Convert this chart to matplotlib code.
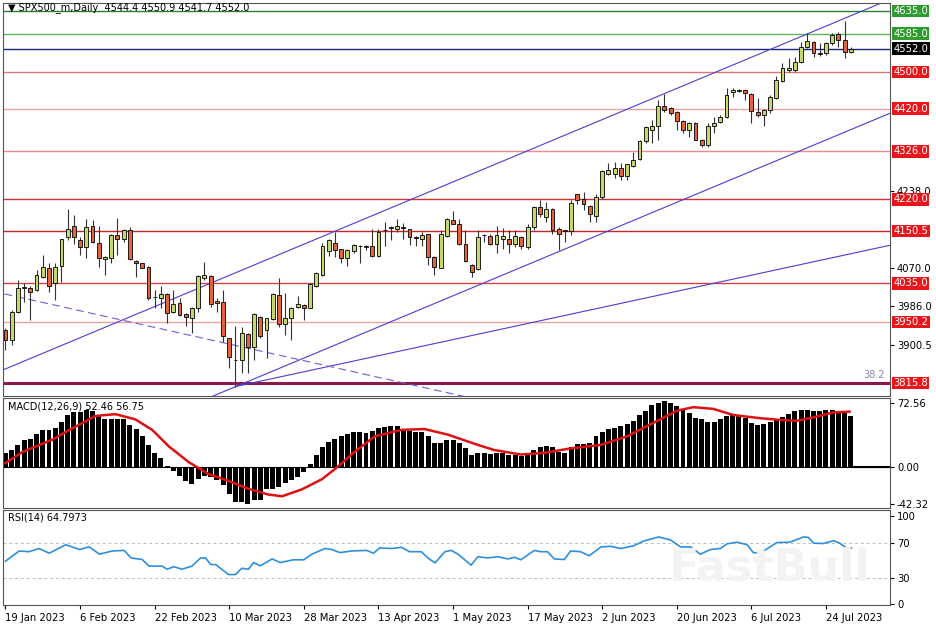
import matplotlib
matplotlib.use("Agg")
import matplotlib.pyplot as plt
import numpy as np

plt.rcParams['font.family'] = ['DejaVu Sans']

opens = [3932,3911,3973,4024,4026,4021,4050,4068,4035,4074,4137,4162,4131,4116,4161,4125,4089,4092,4141,4133,
         4153,4085,4079,4072,4006,4004,4011,3973,3991,3968,3958,3980,4046,4051,3996,3995,3914,3866,3866,3924,
         3896,3962,3933,3956,4010,3946,3960,3984,3987,3982,4029,4054,4107,4125,4110,4090,4107,4118,4116,4117,
         4095,4152,4158,4156,4159,4154,4137,4133,4143,4094,4070,4139,4175,4166,4121,4076,4066,4141,4139,4123,
         4134,4134,4123,4138,4116,4160,4204,4182,4200,4154,4151,4151,4231,4221,4206,4184,4226,4277,4276,4289,
         4272,4294,4308,4349,4374,4382,4426,4421,4412,4393,4374,4388,4351,4340,4382,4391,4401,4456,4459.5,4460,
         4452,4413,4406,4417,4443,4481,4505,4505,4523,4556,4567,4543,4542,4564,4584,4572,4544.4]
highs = [3936,3977,4043,4035,4030,4065,4098,4079,4079,4134,4198,4186,4137,4178,4175,4161,4096,4145,4180,4156,
         4160,4087,4081,4074,4021,4030,4013,4021,4002,3970,3984,4053,4083,4053,4002,4021,3916,3941,3940,3926,
         3970,3964,3960,4014,4046,4013,3984,4007,3989,4036,4061,4125,4133,4149,4112,4111,4122,4120,4119,4156,
         4156,4170,4161,4178,4169,4156,4139,4149,4145,4096,4153,4179,4194,4178,4153,4078,4153,4145,4145,4161,
         4158,4153,4153,4140,4167,4206,4219,4215,4202,4160,4153,4219,4233,4237,4208,4233,4285,4301,4303,4300,
         4299,4325,4351,4381,4396,4439,4452,4423,4414,4395,4391,4390,4353,4389,4402,4406,4465,4465,4463,4463,
         4454,4444,4419,4450,4492,4521,4531,4534,4567,4586,4569,4565,4567,4587,4588,4614,4556]
lows = [3888,3899,3970,3995,3954,4018,4048,4017,3999,4039,4131,4123,4098,4090,4124,4072,4054,4079,4098,4127,
        4086,4050,4068,3999,3980,3980,3947,3969,3963,3941,3925,3973,4043,3984,3973,3907,3848,3808,3837,3837,
        3866,3914,3870,3954,3940,3921,3911,3982,3954,3980,4028,4052,4095,4094,4079,4073,4101,4079,4109,4093,
        4093,4118,4131,4149,4134,4120,4117,4117,4076,4054,4068,4137,4165,4119,4082,4050,4064,4127,4120,4101,
        4112,4101,4116,4112,4112,4153,4182,4171,4145,4109,4127,4142,4211,4197,4171,4171,4222,4274,4267,4263,
        4263,4292,4307,4344,4344,4352,4413,4406,4373,4367,4358,4351,4335,4336,4366,4388,4399,4446,4457,4439,
        4389,4401,4382,4411,4441,4479,4501,4501,4521,4554,4534,4536,4538,4560,4556,4531,4541.7]
closes = [3911,3973,4024,4028,4017,4054,4072,4029,4072,4132,4156,4137,4116,4159,4126,4092,4094,4142,4134,4153,
          4088,4079,4070,4002,4005,4011,3971,3990,3965,3962,3982,4051,4054,3990,3991,3919,3872,3867,3926,3896,
          3968,3919,3958,4012,3946,3960,3982,3990,3980,4034,4059,4117,4131,4109,4092,4109,4120,4117,4117,4095,
          4149,4153,4159,4161,4158,4137,4136,4142,4094,4071,4145,4177,4167,4121,4084,4061,4137,4141.5,4123,4142,
          4140,4123,4139,4117,4160,4204,4189,4200,4153,4143,4151.5,4213,4219,4211,4189,4226,4283,4285,4289,4272,
          4297,4307,4349,4379,4382,4426,4418,4410,4393,4373,4389,4352,4340,4382,4389,4402,4449,4461,4460,4455,
          4415,4406,4417,4445,4483,4509,4510,4523,4556,4570,4542,4540,4564,4582,4571,4545,4552.0]

macd_hist = [16,19,25,31,32,37,42,42,44,51,59,63,63,65,64,59,55,55,55,55,
             48,43,35,25,16,10,0.5,-5.5,-10.6,-16.5,-19.6,-14.5,-10.6,-11.8,-15.7,-21,-31,-40,-40,-42.3,
             -38,-38,-26,-25.5,-23.6,-18.9,-15.7,-11.8,-5.9,2.4,13,22.8,28,31.4,35.4,37.7,39.3,39.3,38.5,41.3,
             43.6,45.6,46.4,46.4,43.2,40.5,39.3,39.3,34.6,26.7,26.7,30.7,30.7,26.7,20.8,13.8,15,15,14,15,
             15,13.8,13.8,11.8,15,18.9,22,24,22,17,16,22,25.5,25.5,27.5,34.6,39.3,43.2,44.4,46.4,
             48.3,52.3,59.3,64,70,73,74.7,73,69,66,61.3,55.4,54.2,51.5,51.5,55,58.2,59.3,59,55.4,
             50.3,47.5,48.3,51.5,54.2,56.2,60,64,65.2,65.2,64,64,65.2,64.8,64,63.3,58]
signal_idx = [0.0,2.8,7.6,10.3,14.5,17.7,20.9,23.6,26.3,29.5,32.7,35.9,39.1,42.3,44.5,47.7,50.9,53.0,56.2,59.4,
              63.7,67.4,71.2,74.9,76.0,78.6,82.9,86.7,90.9,95.8,100.0,104.3,108.0,110.7,113.9,117.1,121.4,124.6,
              127.3,129.9,133.2,135.8]
signal_val = [4,17,31,42,58,60,54,42,23,5,-8.6,-16.5,-25.5,-32,-34,-26,-14.5,-2.8,17,34.6,
              42,43,36.5,27.5,24.8,19,13.8,15.7,20.8,24.8,34.6,50.3,64,68,66,59,55.4,53.4,
              52.3,56.2,62,62.9]
rsi_idx = [0.0,2.2,3.8,5.4,7.05,9.7,11.9,13.5,15.1,17.2,19.1,20.2,22.0,23.1,25.2,26.0,27.1,28.4,30.0,31.4,
           32.2,33.0,33.8,35.9,37.0,38.0,39.1,39.9,41.0,42.9,44.2,46.3,48.0,49.3,51.4,52.5,53.8,55.7,58.1,59.2,
           60.2,62.1,63.7,65.0,66.9,68.0,69.1,70.7,71.7,72.8,74.9,76.0,77.6,79.2,80.8,81.9,82.9,85.1,86.1,87.2,
           88.3,89.9,90.9,92.5,93.9,95.8,97.4,99.0,101.1,102.7,105.1,107.0,108.6,110.2,111.8,113.4,115.0,116.1,
           117.7,119.3,120.3,121.4,124.1,126.2,128.4,129.2,130.0,131.6,133.2,134.2,135.3,136.1]
rsi_val = [48.9,60.4,59.6,63.2,57.9,67.5,62.1,65,56.8,60.4,61.1,52.5,50.7,43.2,43.2,39.7,42.5,39.7,43.2,52.5,
           52.5,45,45,33.6,33.6,40.7,39.7,47.2,43.6,51.4,47.2,50.4,50.4,56.8,63.2,62.1,58.6,60.4,61.1,57.9,
           63.9,63.2,64.6,59.6,59.6,52.2,46.8,59.6,61.1,56.8,44.3,53.9,52.5,53.9,51.4,53.2,50.4,61.1,59.6,59.6,
           51.4,50.7,60.4,59.6,55,65,65.7,63.2,66.4,71.8,76.4,72.9,65,65,56.8,62.1,63.2,68.6,
           70.4,67.5,58.6,57.9,70,70.4,76.4,75.7,69.3,68.9,72.1,69.3,63.9,63.9]

date_labels = ["19 Jan 2023","6 Feb 2023","22 Feb 2023","10 Mar 2023","28 Mar 2023","13 Apr 2023",
               "1 May 2023","17 May 2023","2 Jun 2023","20 Jun 2023","6 Jul 2023","24 Jul 2023"]
date_idx = [0,12,24,36,48,60,72,84,96,108,120,132]

levels = [4635.0,4585.0,4552.0,4500.0,4420.0,4326.0,4220.0,4150.5,4035.0,3950.2,3815.8]
level_colors = ['#2e7d32','#5cb85c','#1a237e','#e57373','#f2a0a0','#f08a8a','#d32f2f','#c62828','#d84040','#f2a0a0','#8b1a4a']
level_box = ['#2e9c2e','#2e9c2e','#000000','#e8151b','#e8151b','#e8151b','#e8151b','#e8151b','#e8151b','#e8151b','#e8151b']
price_ticks = [3900.5,3986.0,4070.0,4238.0]

upper_line = ([-0.16,140.9],[3846,4652.6])
lower_line = ([29.7,142.5],[3766,4411])
flat_line = ([37.0,142.5],[3808,4119.7])
dash_line = ([-0.16,73.85],[4012,3786])

W,H = 936,624
fig = plt.figure(figsize=(W/100,H/100), dpi=100, facecolor='white')
def ax_at(l,t,r,b):
    return fig.add_axes([l/W, 1-b/H, (r-l)/W, (b-t)/H])

xl = (-0.4, 142.3)
ax = ax_at(3,3,890,396)
ax.set_xlim(*xl); ax.set_ylim(3787.2, 4652.6)
n = len(opens)
x = np.arange(n)
for i in range(n):
    o,h,l,c = opens[i],highs[i],lows[i],closes[i]
    bull = c >= o
    ax.vlines(i, l, h, color='#333333', lw=0.8, zorder=3)
    lo, hi = min(o,c), max(o,c)
    ax.bar(i, max(hi-lo,0.8), bottom=lo, width=0.62, color='#c5d86d' if bull else '#e2643a',
           edgecolor='black', lw=0.6, zorder=4)
for lv,col in zip(levels,level_colors):
    ax.axhline(lv, color=col, lw=2.2 if lv==3815.8 else 1.0, zorder=2)
ax.plot(*upper_line, color='#4a3fd0', lw=0.8, zorder=2)
ax.plot(*lower_line, color='#4a3fd0', lw=0.8, zorder=2)
ax.plot(*flat_line, color='#4a3fd0', lw=0.8, zorder=2)
ax.plot(*dash_line, color='#6a60d8', lw=0.8, ls=(0,(7,4)), zorder=2)
ax.text(141.5, 3822, '38.2', color='#8888aa', fontsize=7, ha='right', va='bottom')
ax.text(0.4, 4643, '▼ SPX500_m,Daily  4544.4 4550.9 4541.7 4552.0', fontsize=7, color='black', va='center')
ax.set_xticks([]); ax.yaxis.tick_right()
ax.set_yticks(price_ticks)
ax.set_yticklabels([f"{v:.1f}" for v in price_ticks], fontsize=7.2)
ax.tick_params(axis='y', length=3, pad=2)
for lv,bc in zip(levels,level_box):
    ax.text(1.004, lv, f"{lv:.1f}", transform=ax.get_yaxis_transform(), fontsize=7.2, color='white',
            va='center', ha='left', zorder=10, clip_on=False,
            bbox=dict(boxstyle='square,pad=0.12', fc=bc, ec='none'))
for s in ax.spines.values(): s.set_color('#555555'); s.set_linewidth(0.8)

# MACD
am = ax_at(3,398,890,508)
am.set_xlim(*xl); am.set_ylim(-47.4, 78.5)
am.bar(x, macd_hist, width=0.8, color='black', zorder=2)
am.plot(signal_idx, signal_val, color='#dd1111', lw=1.8, zorder=3)
am.axhline(0, color='black', lw=0.8)
am.plot([136.5, 142.3], [0,0], color='black', lw=1.5, clip_on=False)
am.text(0.4, 75, 'MACD(12,26,9) 52.46 56.75', fontsize=7, va='top', zorder=5)
am.set_xticks([]); am.yaxis.tick_right()
am.set_yticks([72.56, 0.0, -42.32]); am.set_yticklabels(['72.56','0.00','-42.32'], fontsize=7.2)
am.tick_params(axis='y', length=3, pad=2)
for s in am.spines.values(): s.set_color('#555555'); s.set_linewidth(0.8)

# RSI
ar = ax_at(3,510,890,605)
ar.set_xlim(*xl); ar.set_ylim(-1, 107)
fig.text(770/W, 1-568/H, 'FastBull', fontsize=32, fontweight='bold', color='#f3f3f3', ha='center', va='center', zorder=0)
ar.set_facecolor('none')
ar.plot(rsi_idx, rsi_val, color='#2f8fdc', lw=1.2, zorder=3)
for lv in (70,30):
    ar.axhline(lv, color='#bbbbbb', lw=0.7, ls=(0,(3,3)))
ar.text(0.4, 104, 'RSI(14) 64.7973', fontsize=7, va='top')
ar.yaxis.tick_right()
ar.set_yticks([100,70,30,0]); ar.set_yticklabels(['100','70','30','0'], fontsize=7.2)
ar.set_xticks(date_idx); ar.set_xticklabels(date_labels, fontsize=7.2, ha='left')
ar.tick_params(axis='x', length=3, pad=3)
ar.tick_params(axis='y', length=3, pad=2)
for s in ar.spines.values(): s.set_color('#555555'); s.set_linewidth(0.8)

fig.savefig('out.png', dpi=100, facecolor='white')
